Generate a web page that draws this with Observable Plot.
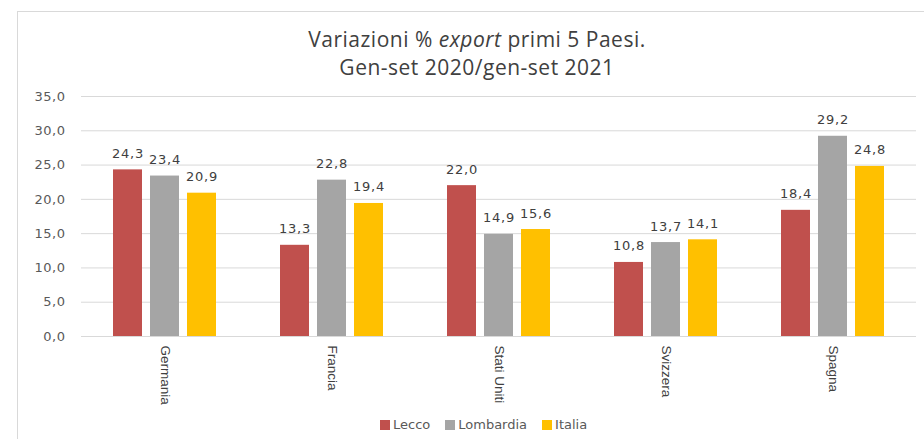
<!DOCTYPE html>
<html>
<head>
<meta charset="utf-8">
<script src="https://cdn.jsdelivr.net/npm/d3@7"></script>
<script src="https://cdn.jsdelivr.net/npm/@observablehq/plot@0.6"></script>
<style>
  html, body { margin: 0; padding: 0; background: #fff; }
  #wrap { position: relative; width: 924px; height: 439px; overflow: hidden; }
  #frame { position: absolute; left: 17px; top: 11px; width: 1000px; height: 1000px; border: 1px solid #d9d9d9; box-sizing: border-box; }
  #title { position: relative; height: 86px; box-sizing: border-box; padding-top: 25px; padding-left: 30px;
           text-align: center; font-family: "Open Sans", sans-serif; font-size: 21px; line-height: 28px;
           letter-spacing: 0.5px; color: #404040; }
  #title div { height: 28px; }
  #chart { position: relative; height: 320px; }
  #legend { position: absolute; left: 380px; top: 417px; display: flex; align-items: center;
            font-family: "DejaVu Sans", sans-serif; font-size: 13px; color: #595959; }
  .item { display: flex; align-items: center; margin-right: 15px; }
  .sw { width: 10px; height: 10px; margin-right: 3px; }
</style>
</head>
<body>
<div id="wrap">
  <div id="frame"></div>
  <div id="title"><div>Variazioni % <i>export</i> primi 5 Paesi.</div><div>Gen-set 2020/gen-set 2021</div></div>
  <div id="chart"></div>
  <div id="legend"></div>
</div>
<script>
const paesi = ["Germania", "Francia", "Stati Uniti", "Svizzera", "Spagna"];
const serie = ["Lecco", "Lombardia", "Italia"];
const lecco = [24.3, 13.3, 22.0, 10.8, 18.4];
const lombardia = [23.4, 22.8, 14.9, 13.7, 29.2];
const italia = [20.9, 19.4, 15.6, 14.1, 24.8];
const colori = ["#C0504D", "#A5A5A5", "#FFC000"];
const yTicks = [0, 5, 10, 15, 20, 25, 30, 35];

const valori = [lecco, lombardia, italia];
const data = paesi.flatMap((p, i) => serie.map((s, j) => ({paese: p, serie: s, valore: valori[j][i]})));
const fmt = v => d3.format(".1f")(v).replace(".", ",");

const chart = Plot.plot({
  width: 924,
  height: 320,
  marginLeft: 80,
  marginRight: 7,
  marginTop: 10,
  marginBottom: 70,
  style: {fontFamily: "DejaVu Sans, sans-serif", fontSize: "13px", color: "#595959", background: "transparent"},
  fx: {domain: paesi, padding: 0, label: null, axis: "bottom", tickRotate: 90, tickSize: 0, tickPadding: 9},
  x: {domain: serie, axis: null, paddingInner: 0.22, paddingOuter: 0.843},
  y: {domain: [0, 35], ticks: yTicks, tickFormat: fmt, tickSize: 0, tickPadding: 16, label: null},
  color: {domain: serie, range: colori},
  marks: [
    Plot.ruleY(yTicks, {stroke: "#d9d9d9", strokeWidth: 1}),
    Plot.barY(data, {fx: "paese", x: "serie", y: "valore", fill: "serie"}),
    Plot.text(data, {fx: "paese", x: "serie", y: "valore", text: d => fmt(d.valore), dy: -12,
                     lineAnchor: "bottom", fill: "#404040", fontSize: 13, fontFamily: "DejaVu Sans"})
  ]
});
document.getElementById("chart").appendChild(chart);

const svg = d3.select(chart);
svg.selectAll('[aria-label^="fx-axis"] text').attr("font-family", "Liberation Sans, sans-serif").attr("font-size", 13.5).attr("fill", "#404040");
svg.selectAll('[aria-label^="y-axis"] text').style("letter-spacing", "0.5px");
svg.selectAll('[aria-label="text"] text').style("letter-spacing", "0.8px");

const legend = d3.select("#legend");
serie.forEach((s, i) => {
  const it = legend.append("div").attr("class", "item");
  it.append("div").attr("class", "sw").style("background", colori[i]);
  it.append("span").text(s);
});
</script>
</body>
</html>
